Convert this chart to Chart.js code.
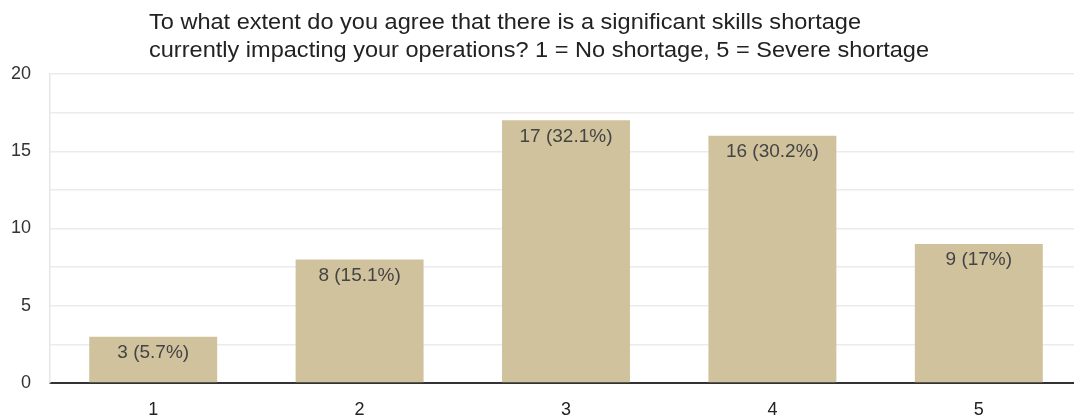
<!DOCTYPE html>
<html>
<head>
<meta charset="utf-8">
<script src="https://cdn.jsdelivr.net/npm/chart.js@4/dist/chart.umd.min.js"></script>
<style>
  html, body { margin: 0; padding: 0; background: #fff; overflow: hidden; }
  #wrap { position: relative; width: 1082px; height: 417px; }
</style>
</head>
<body>
<div id="wrap"><canvas id="skillsChart"></canvas></div>
<script>
// Survey answers: rating 1..5 with number of responses and share
const ratings = ['1', '2', '3', '4', '5'];
const responses = [3, 8, 17, 16, 9];
const shares = ['5.7', '15.1', '32.1', '30.2', '17'];
const titleLines = [
  'To what extent do you agree that there is a significant skills shortage',
  'currently impacting your operations? 1 = No shortage, 5 = Severe shortage'
];

const FONT = '"Liberation Sans", Arial, sans-serif';

// title text, left aligned above the plot, slightly widened
const titlePlugin = {
  id: 'leftTitle',
  afterDraw(chart) {
    const ctx = chart.ctx;
    ctx.save();
    ctx.fillStyle = '#222';
    ctx.font = '21.5px ' + FONT;
    ctx.textAlign = 'left';
    ctx.textBaseline = 'middle';
    const sx = 712 / ctx.measureText(titleLines[0]).width;
    titleLines.forEach((line, i) => {
      ctx.save();
      ctx.translate(149, 23 + i * 28);
      ctx.scale(sx, 1);
      ctx.fillText(line, 0, 0);
      ctx.restore();
    });
    ctx.restore();
  }
};

// "count (pct%)" written inside the top of each bar
const valueLabels = {
  id: 'valueLabels',
  afterDatasetsDraw(chart) {
    const ctx = chart.ctx;
    const meta = chart.getDatasetMeta(0);
    ctx.save();
    ctx.fillStyle = '#444';
    ctx.font = '19px ' + FONT;
    ctx.textAlign = 'center';
    ctx.textBaseline = 'middle';
    meta.data.forEach((bar, i) => {
      ctx.fillText(responses[i] + ' (' + shares[i] + '%)', bar.x, bar.y + 16);
    });
    ctx.restore();
  }
};

new Chart(document.getElementById('skillsChart'), {
  type: 'bar',
  data: {
    labels: ratings,
    datasets: [{
      data: responses,
      backgroundColor: '#d0c29d',
      borderWidth: 0,
      barPercentage: 0.62,
      categoryPercentage: 1
    }]
  },
  options: {
    responsive: true,
    maintainAspectRatio: false,
    animation: false,
    layout: { padding: { top: 74, left: 0, right: 0, bottom: 0 } },
    plugins: {
      legend: { display: false },
      tooltip: { enabled: false },
      title: { display: false }
    },
    scales: {
      x: {
        grid: { display: false, drawTicks: false },
        border: { color: '#333', width: 2 },
        ticks: { color: '#222', font: { family: FONT, size: 18 }, padding: 16 },
        afterFit(scale) { scale.height = 34; }
      },
      y: {
        min: 0,
        max: 20,
        grid: { color: '#ebebeb', lineWidth: 1.5, drawTicks: false },
        border: { color: '#e6e6e6', width: 1.5 },
        ticks: {
          stepSize: 2.5,
          autoSkip: false,
          color: '#333',
          font: { family: FONT, size: 18 },
          padding: 19,
          callback: v => (v % 5 === 0 ? v : '')
        },
        afterFit(scale) { scale.width = 50; }
      }
    }
  },
  plugins: [titlePlugin, valueLabels]
});
</script>
</body>
</html>
